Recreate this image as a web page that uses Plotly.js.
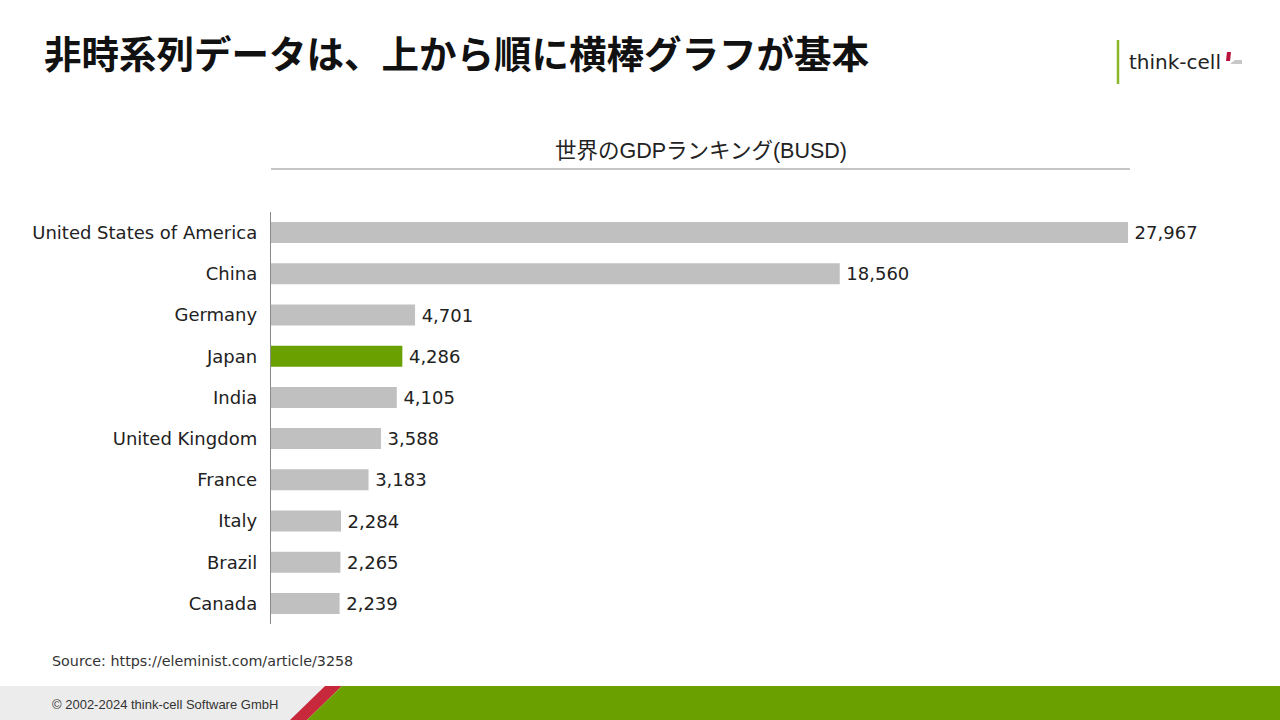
<!DOCTYPE html>
<html>
<head>
<meta charset="utf-8">
<script src="https://cdn.plot.ly/plotly-3.0.1.min.js"></script>
<style>html,body{margin:0;padding:0;background:#fff;}#chart{width:1280px;height:720px;}</style>
</head>
<body>
<div id="chart"></div>
<script>
const countries = ["United States of America","China","Germany","Japan","India","United Kingdom","France","Italy","Brazil","Canada"];
const gdp = [27967,18560,4701,4286,4105,3588,3183,2284,2265,2239];
const highlight = "Japan";
const headline = "非時系列データは、上から順に横棒グラフが基本";
const chartTitle = "世界のGDPランキング(BUSD)";
const sourceText = "Source: https://eleminist.com/article/3258";
const copyrightText = "© 2002-2024 think-cell Software GmbH";

const barColors = countries.map(c => c === highlight ? "#6aa100" : "#c0c0c0");

// pixel helpers (plot area: x 271..1128, y 212..624)
const L = 271, R = 1128, T = 212, B = 624;
const px = x => (x - L) / (R - L);
const py = y => (B - y) / (B - T);

const trace = {
  type: "bar",
  orientation: "h",
  x: gdp,
  y: countries,
  marker: {color: barColors},
  width: 0.51,
  text: gdp.map(v => "\u2009" + v.toLocaleString("en-US")),
  textposition: "outside",
  cliponaxis: false,
  textfont: {family: "DejaVu Sans, Verdana, sans-serif", size: 18, color: "#222"},
  hoverinfo: "skip"
};

const layout = {
  width: 1280, height: 720,
  margin: {l: L, r: 1280 - R, t: T, b: 720 - B, pad: 0},
  paper_bgcolor: "#fff", plot_bgcolor: "#fff",
  showlegend: false,
  bargap: 0.49,
  xaxis: {range: [0, 27967], visible: false, showgrid: false, zeroline: false, fixedrange: true},
  yaxis: {
    type: "category", range: [9.5, -0.5], showgrid: false, zeroline: false,
    showline: true, linecolor: "#8a8a8a", linewidth: 1.2,
    ticks: "", ticklabelstandoff: 9,
    tickfont: {family: "DejaVu Sans, Verdana, sans-serif", size: 18, color: "#222"}
  },
  shapes: [
    {type: "line", xref: "paper", yref: "paper", x0: px(271), x1: px(1130), y0: py(169), y1: py(169), line: {color: "#8c8c8c", width: 1}},
    {type: "path", xref: "paper", yref: "paper", path: `M ${px(0)},${py(686)} L ${px(325)},${py(686)} L ${px(290)},${py(720)} L ${px(0)},${py(720)} Z`, fillcolor: "#ececec", line: {width: 0}},
    {type: "path", xref: "paper", yref: "paper", path: `M ${px(290)},${py(720)} L ${px(325)},${py(686)} L ${px(342)},${py(686)} L ${px(307)},${py(720)} Z`, fillcolor: "#c8283c", line: {width: 0}},
    {type: "path", xref: "paper", yref: "paper", path: `M ${px(307)},${py(720)} L ${px(342)},${py(686)} L ${px(1280)},${py(686)} L ${px(1280)},${py(720)} Z`, fillcolor: "#6aa100", line: {width: 0}},
    {type: "line", xref: "paper", yref: "paper", x0: px(1118), x1: px(1118), y0: py(40), y1: py(84), line: {color: "#8ab82a", width: 2.5}},
    {type: "path", xref: "paper", yref: "paper", path: `M ${px(1227)},${py(52)} L ${px(1231)},${py(52)} L ${px(1230)},${py(61)} L ${px(1226)},${py(61)} Z`, fillcolor: "#b8123c", line: {width: 0}},
    {type: "path", xref: "paper", yref: "paper", path: `M ${px(1230)},${py(64)} L ${px(1242)},${py(64)} L ${px(1242)},${py(60)} L ${px(1235)},${py(60)} Z`, fillcolor: "#c8c8c8", line: {width: 0}}
  ],
  annotations: [
    {text: headline, xref: "paper", yref: "paper", x: px(42), y: py(51), xanchor: "left", yanchor: "middle", showarrow: false,
     font: {family: "Noto Sans CJK JP, sans-serif", size: 37.5, color: "#111", weight: 700}},
    {text: chartTitle, xref: "paper", yref: "paper", x: px(701), y: py(151), xanchor: "center", yanchor: "middle", showarrow: false,
     font: {family: "Liberation Sans, Noto Sans CJK JP, sans-serif", size: 21.5, color: "#222"}},
    {text: "think-cell", xref: "paper", yref: "paper", x: px(1127), y: py(62), xanchor: "left", yanchor: "middle", showarrow: false,
     font: {family: "DejaVu Sans, sans-serif", size: 20, color: "#222"}},
    {text: sourceText, xref: "paper", yref: "paper", x: px(50), y: py(661), xanchor: "left", yanchor: "middle", showarrow: false,
     font: {family: "DejaVu Sans, Verdana, sans-serif", size: 14.3, color: "#333"}},
    {text: copyrightText, xref: "paper", yref: "paper", x: px(50), y: py(704), xanchor: "left", yanchor: "middle", showarrow: false,
     font: {family: "Liberation Sans, Arial, sans-serif", size: 13, color: "#333"}}
  ]
};

Plotly.newPlot("chart", [trace], layout, {displayModeBar: false, staticPlot: true});
</script>
</body>
</html>
